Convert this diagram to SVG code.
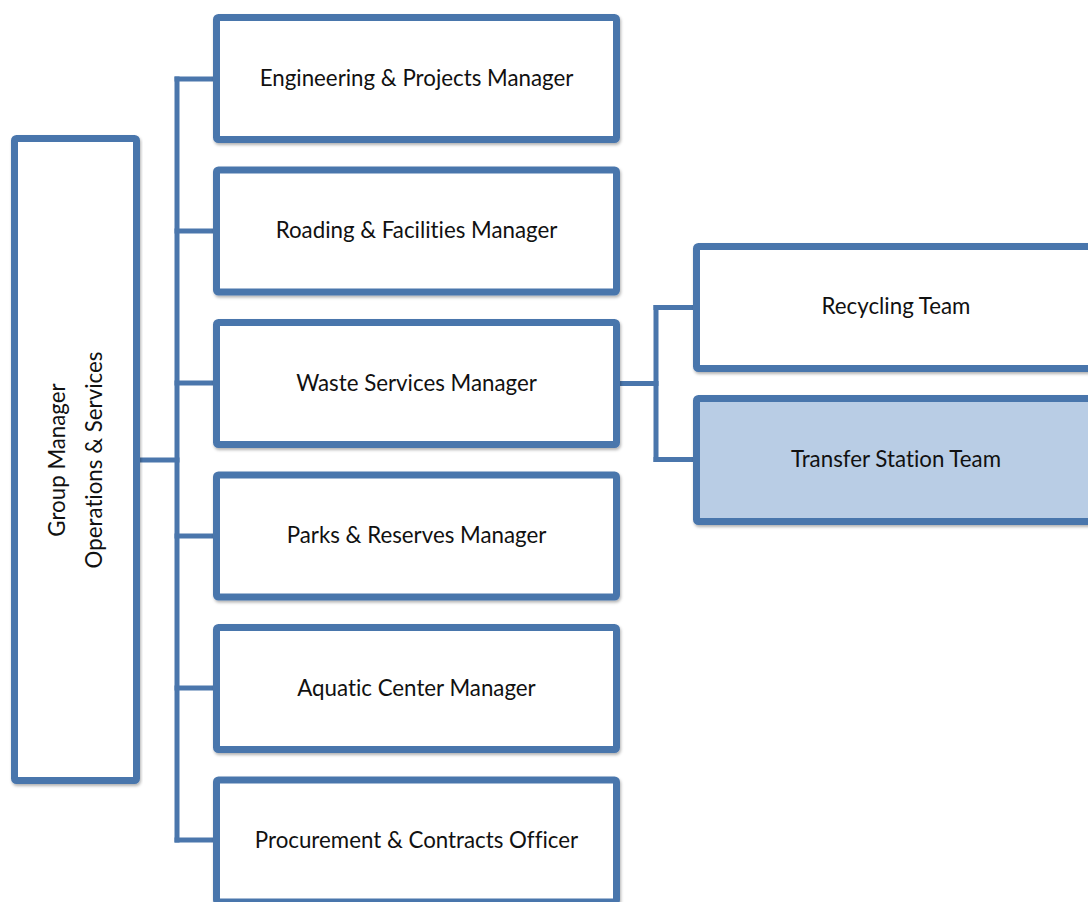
<svg xmlns="http://www.w3.org/2000/svg" width="1088" height="902" viewBox="0 0 1088 902">
  <defs>
    <filter id="shadow" x="-5%" y="-5%" width="110%" height="115%">
      <feDropShadow dx="1" dy="2" stdDeviation="1.5" flood-color="#000" flood-opacity="0.3"/>
    </filter>
    <style>
      .box { fill: #ffffff; stroke: #4A76AC; stroke-width: 7; filter: url(#shadow); }
      .box.alt { fill: #B9CDE5; }
      .lbl { font-family: Lato, "Open Sans", "Liberation Sans", sans-serif; font-size: 22.3px; fill: #111111; text-anchor: middle; font-variant-ligatures: none; }
      .link { fill: none; stroke: #4A76AC; stroke-width: 5; stroke-linecap: square; stroke-linejoin: miter; }
    </style>
  </defs>

  <rect width="1088" height="902" fill="#ffffff"/>

  <!-- connectors -->
  <g id="connectors">
    <path class="link" d="M177 79 V840"/>
    <path class="link" d="M140 460 H177"/>
    <path class="link" d="M177 79 H213"/>
    <path class="link" d="M177 231 H213"/>
    <path class="link" d="M177 383 H213"/>
    <path class="link" d="M177 536 H213"/>
    <path class="link" d="M177 688 H213"/>
    <path class="link" d="M177 840 H213"/>
    <path class="link" d="M620 383.5 H656"/>
    <path class="link" d="M656 307.5 V459.5"/>
    <path class="link" d="M656 307.5 H693"/>
    <path class="link" d="M656 459.5 H693"/>
  </g>

  <!-- root -->
  <g id="group-manager">
    <rect class="box" x="14.5" y="138.5" width="122" height="642" rx="2"/>
    <text class="lbl" transform="translate(65 460) rotate(-90)" x="0" y="0">Group Manager</text>
    <text class="lbl" transform="translate(102 460) rotate(-90)" x="0" y="0">Operations &amp; Services</text>
  </g>

  <!-- managers -->
  <g id="engineering">
    <rect class="box" x="216.5" y="17.5" width="400" height="122" rx="2"/>
    <text class="lbl" x="416.5" y="86">Engineering &amp; Projects Manager</text>
  </g>
  <g id="roading">
    <rect class="box" x="216.5" y="170" width="400" height="122" rx="2"/>
    <text class="lbl" x="416.5" y="238">Roading &amp; Facilities Manager</text>
  </g>
  <g id="waste">
    <rect class="box" x="216.5" y="322.5" width="400" height="122" rx="2"/>
    <text class="lbl" x="416.5" y="391">Waste Services Manager</text>
  </g>
  <g id="parks">
    <rect class="box" x="216.5" y="475" width="400" height="122" rx="2"/>
    <text class="lbl" x="416.5" y="543">Parks &amp; Reserves Manager</text>
  </g>
  <g id="aquatic">
    <rect class="box" x="216.5" y="627.5" width="400" height="122" rx="2"/>
    <text class="lbl" x="416.5" y="696">Aquatic Center Manager</text>
  </g>
  <g id="procurement">
    <rect class="box" x="216.5" y="780" width="400" height="122" rx="2"/>
    <text class="lbl" x="416.5" y="848">Procurement &amp; Contracts Officer</text>
  </g>

  <!-- waste teams -->
  <g id="recycling">
    <rect class="box" x="696.5" y="246.5" width="400" height="122" rx="2"/>
    <text class="lbl" x="896" y="314">Recycling Team</text>
  </g>
  <g id="transfer-station">
    <rect class="box alt" x="696.5" y="398.5" width="400" height="123" rx="2"/>
    <text class="lbl" x="896" y="467">Transfer Station Team</text>
  </g>
</svg>
